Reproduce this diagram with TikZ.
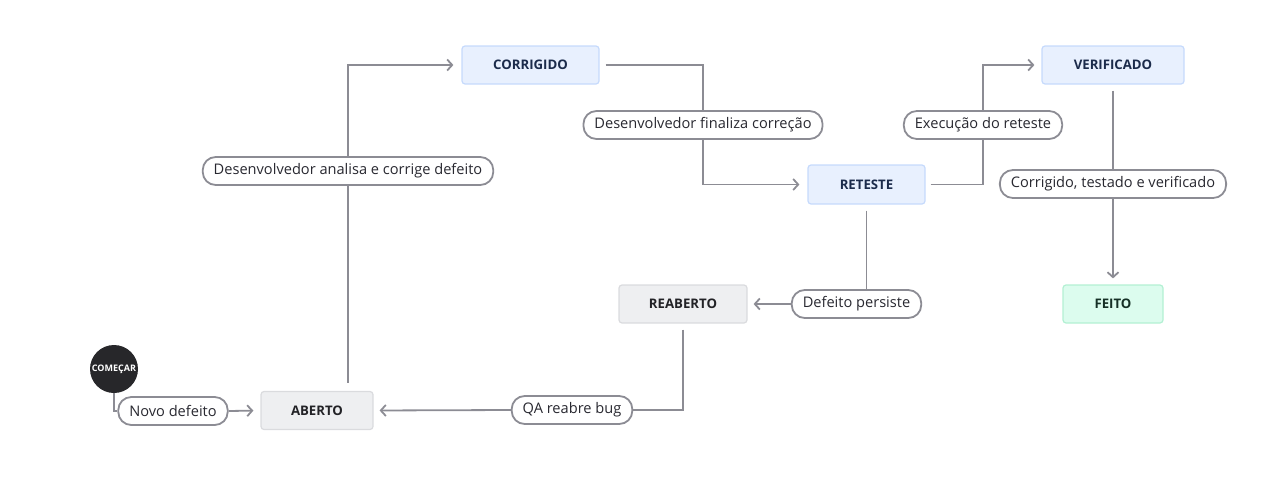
\documentclass[tikz,border=0pt]{standalone}
\usepackage{fontspec}
\setmainfont{Open Sans}
\usetikzlibrary{arrows.meta}
\definecolor{edgec}{RGB}{140,140,148}
\definecolor{grayfill}{RGB}{238,239,241}
\definecolor{grayline}{RGB}{218,219,222}
\definecolor{graytext}{RGB}{34,34,38}
\definecolor{bluefill}{RGB}{232,240,254}
\definecolor{blueline}{RGB}{198,218,252}
\definecolor{bluetext}{RGB}{27,43,75}
\definecolor{greenfill}{RGB}{220,252,238}
\definecolor{greenline}{RGB}{179,240,211}
\definecolor{greentext}{RGB}{22,48,38}
\definecolor{labtext}{RGB}{40,40,48}
\definecolor{startfill}{RGB}{39,39,42}
\begin{document}
\begin{tikzpicture}[x=1pt,y=-1pt,
  box/.style={draw, line width=1.2pt, rounded corners=3pt, inner sep=0pt,
    font=\bfseries\fontsize{13.2}{15}\selectfont, minimum height=38pt},
  graybox/.style={box, fill=grayfill, draw=grayline, text=graytext},
  bluebox/.style={box, fill=bluefill, draw=blueline, text=bluetext},
  greenbox/.style={box, fill=greenfill, draw=greenline, text=greentext},
  lbl/.style={draw=edgec, line width=1.8pt, fill=white, rounded corners=13pt,
    minimum height=28pt, inner xsep=11pt, inner ysep=0pt,
    font=\fontsize{14.6}{17}\selectfont, text=labtext},
  edge/.style={draw=edgec, line width=1.8pt},
  arr/.style={edge, -{Straight Barb[length=5pt,width=11pt]}},
  startnode/.style={circle, fill=startfill, minimum size=48pt, inner sep=0pt,
    text=white, font=\bfseries\fontsize{9}{10}\selectfont}
]
\useasboundingbox (0,0) rectangle (1277,498);

% states
\node[startnode] (start) at (114,369) {COMEÇAR};
\node[graybox, minimum width=112pt] (aberto) at (317,410.5) {ABERTO};
\node[bluebox, minimum width=137pt] (corrigido) at (530.5,65) {CORRIGIDO};
\node[bluebox, minimum width=117pt, minimum height=39pt] (reteste) at (866.5,184.5) {RETESTE};
\node[bluebox, minimum width=142pt] (verificado) at (1113,65) {VERIFICADO};
\node[graybox, minimum width=128pt] (reaberto) at (683,304) {REABERTO};
\node[greenbox, minimum width=100pt] (feito) at (1113,304) {FEITO};

% labels
\node[lbl] (l1) at (173,411) {Novo defeito};
\node[lbl] (l2) at (348,171) {Desenvolvedor analisa e corrige defeito};
\node[lbl] (l3) at (703,125) {Desenvolvedor finaliza correção};
\node[lbl] (l4) at (983,125) {Execução do reteste};
\node[lbl] (l5) at (1113,184) {Corrigido, testado e verificado};
\node[lbl] (l6) at (856.5,304) {Defeito persiste};
\node[lbl] (l7) at (572,410) {QA reabre bug};

% connectors
\draw[edge] (start.south) |- (l1.west);
\draw[arr, shorten >=7pt] (l1.east) -- (aberto.west);

\draw[edge, shorten <=8pt] (aberto.north -| l2) -- (l2);
\draw[arr, shorten >=8pt] (l2) |- (corrigido.west);

\draw[edge, shorten <=6pt] (corrigido.east) -| (l3);
\draw[arr, shorten >=8pt] (l3) |- (reteste.west);

\draw[edge, shorten <=5pt] (reteste.east) -| (l4);
\draw[arr, shorten >=7pt] (l4) |- (verificado.west);

\draw[edge, shorten <=6pt] (verificado.south) -- (l5);
\draw[arr, shorten >=6pt] (l5) -- (feito.north);

\draw[edge, shorten <=6pt] (reteste.south) -- (reteste.south |- l6.north);
\draw[arr, shorten >=6pt] (l6.west) -- (reaberto.east);

\draw[edge, shorten <=6pt] (reaberto.south) |- (l7.east);
\draw[arr, shorten >=6pt] (l7.west) -- (aberto.east);
\end{tikzpicture}
\end{document}
